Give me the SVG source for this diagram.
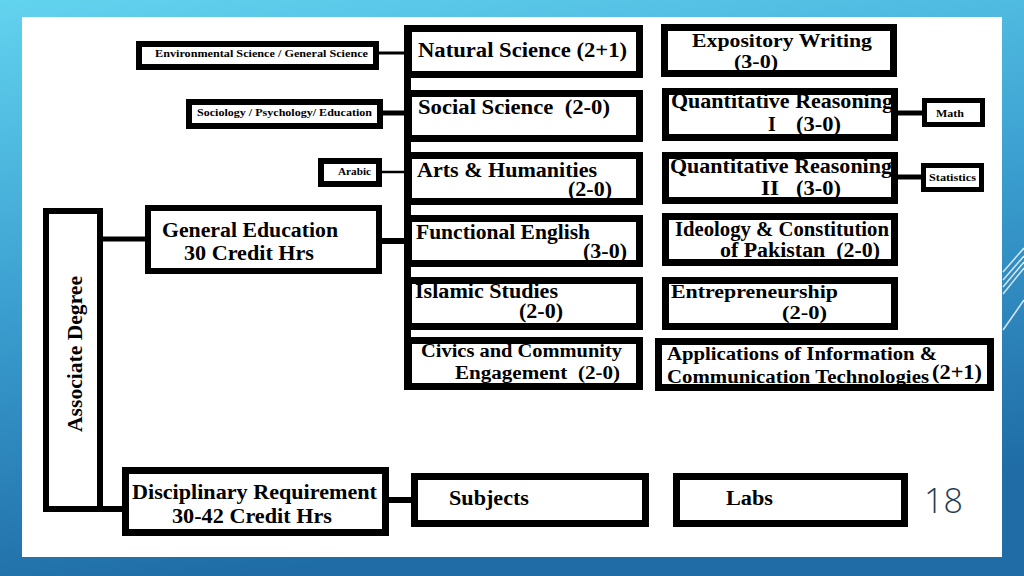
<svg xmlns="http://www.w3.org/2000/svg" width="1024" height="576" viewBox="0 0 1024 576">
<defs>
<linearGradient id="bg" x1="0" y1="0" x2="0.25" y2="1">
<stop offset="0" stop-color="#62D3EF"/>
<stop offset="0.5" stop-color="#3B9FD0"/>
<stop offset="1" stop-color="#1F6CA6"/>
</linearGradient>
<style>
.box{fill:#fff;stroke:#000;stroke-width:6}
.bx7{fill:#fff;stroke:#000;stroke-width:7}
.sm{fill:#fff;stroke:#000;stroke-width:5}
.t{font-family:"Liberation Serif","Times New Roman",serif;font-weight:bold;font-size:20px;fill:#000}
.t2{font-family:"Liberation Serif","Times New Roman",serif;font-weight:bold;font-size:19px;fill:#000}
.ts{font-family:"Liberation Serif","Times New Roman",serif;font-weight:bold;font-size:11px;fill:#000}
.tm{font-family:"Liberation Serif","Times New Roman",serif;font-weight:bold;font-size:18px;fill:#000}
.c{stroke:#000;fill:none}
.deco{stroke:#fff;stroke-width:1.5;fill:none;opacity:0.8}
</style>
</defs>
<rect x="0" y="0" width="1024" height="576" fill="url(#bg)"/>
<g class="deco">
<line x1="1003" y1="272" x2="1024" y2="248"/>
<line x1="1003" y1="280" x2="1024" y2="256"/>
<line x1="1003" y1="287" x2="1024" y2="262"/>
<line x1="1003" y1="294" x2="1024" y2="268"/>
<line x1="1003" y1="330" x2="1024" y2="300"/>
</g>
<rect x="22" y="17" width="980" height="540" fill="#fff"/>

<g id="connectors">
<line class="c" x1="376" y1="53" x2="407" y2="53" stroke-width="3"/>
<line class="c" x1="380" y1="113" x2="407" y2="113" stroke-width="5"/>
<line class="c" x1="379" y1="172" x2="407" y2="172" stroke-width="2.5"/>
<line class="c" x1="379" y1="241" x2="407" y2="241" stroke-width="6"/>
<line class="c" x1="100" y1="239" x2="148" y2="239" stroke-width="5"/>
<line class="c" x1="100" y1="509" x2="125" y2="509" stroke-width="6"/>
<line class="c" x1="386" y1="500" x2="414" y2="500" stroke-width="6"/>
<line class="c" x1="895" y1="113" x2="925" y2="113" stroke-width="5"/>
<line class="c" x1="895" y1="177" x2="924" y2="177" stroke-width="5"/>
<line class="c" x1="407.5" y1="25" x2="407.5" y2="390" stroke-width="7"/>
</g>

<g id="env"><rect class="box" x="139" y="44" width="237" height="23"/>
<text class="ts" x="155" y="57" textLength="213" lengthAdjust="spacingAndGlyphs">Environmental Science / General Science</text></g>
<g id="soc-sub"><rect class="box" x="189" y="102" width="191" height="24"/>
<text class="ts" x="197" y="116" textLength="175" lengthAdjust="spacingAndGlyphs">Sociology / Psychology/ Education</text></g>
<g id="arabic"><rect class="box" x="321" y="161" width="58" height="23"/>
<text class="ts" x="338" y="175" textLength="33" lengthAdjust="spacingAndGlyphs">Arabic</text></g>

<g id="assoc"><rect class="box" x="46" y="211" width="54" height="298"/>
<text class="t" transform="translate(82,432) rotate(-90)" x="0" y="0" textLength="156" lengthAdjust="spacingAndGlyphs">Associate Degree</text></g>

<g id="gened"><rect class="box" x="148" y="208" width="231" height="63"/>
<text class="t" x="162" y="237" textLength="176" lengthAdjust="spacingAndGlyphs">General Education</text>
<text class="t" x="184" y="260" textLength="130" lengthAdjust="spacingAndGlyphs">30 Credit Hrs</text></g>

<g id="disc"><rect class="bx7" x="125.5" y="470.5" width="260" height="62"/>
<text class="t" x="132" y="499" textLength="245" lengthAdjust="spacingAndGlyphs">Disciplinary Requirement</text>
<text class="t" x="172" y="523" textLength="160" lengthAdjust="spacingAndGlyphs">30-42 Credit Hrs</text></g>

<g id="natural"><rect class="bx7" x="408.5" y="28.5" width="231" height="46"/>
<text class="t" x="418" y="57" textLength="209" lengthAdjust="spacingAndGlyphs">Natural Science (2+1)</text></g>
<g id="social"><rect class="bx7" x="408.5" y="93.5" width="231" height="45"/>
<text class="t" x="418" y="114" textLength="192" lengthAdjust="spacingAndGlyphs" xml:space="preserve">Social Science  (2-0)</text></g>
<g id="arts"><rect class="bx7" x="408.5" y="155.5" width="231" height="46"/>
<text class="t" x="417" y="177" textLength="180" lengthAdjust="spacingAndGlyphs">Arts &amp; Humanities</text>
<text class="t" x="568" y="196" textLength="44" lengthAdjust="spacingAndGlyphs">(2-0)</text></g>
<g id="english"><rect class="bx7" x="408.5" y="218.5" width="231" height="45"/>
<text class="t" x="416" y="239" textLength="174" lengthAdjust="spacingAndGlyphs">Functional English</text>
<text class="t" x="583" y="258" textLength="44" lengthAdjust="spacingAndGlyphs">(3-0)</text></g>
<g id="islamic"><rect class="bx7" x="408.5" y="280.5" width="231" height="46"/>
<text class="t" x="415" y="298" textLength="143" lengthAdjust="spacingAndGlyphs">Islamic Studies</text>
<text class="t" x="519" y="318" textLength="44" lengthAdjust="spacingAndGlyphs">(2-0)</text></g>
<g id="civics"><rect class="bx7" x="408.5" y="340.5" width="231" height="46"/>
<text class="tm" x="421" y="357" textLength="201" lengthAdjust="spacingAndGlyphs">Civics and Community</text>
<text class="tm" x="455" y="379" textLength="165" lengthAdjust="spacingAndGlyphs" xml:space="preserve">Engagement  (2-0)</text></g>

<g id="expository"><rect class="bx7" x="664.5" y="27.5" width="229" height="46"/>
<text class="t2" x="692" y="47" textLength="180" lengthAdjust="spacingAndGlyphs">Expository Writing</text>
<text class="t2" x="734" y="68" textLength="44" lengthAdjust="spacingAndGlyphs">(3-0)</text></g>
<g id="qr1"><rect class="bx7" x="665.5" y="91.5" width="229" height="46"/>
<text class="t" x="671" y="108" textLength="222" lengthAdjust="spacingAndGlyphs">Quantitative Reasoning</text>
<text class="t" x="768" y="131">I</text>
<text class="t" x="796" y="131" textLength="45" lengthAdjust="spacingAndGlyphs">(3-0)</text></g>
<g id="qr2"><rect class="bx7" x="665.5" y="155.5" width="229" height="45"/>
<text class="t" x="670" y="173" textLength="222" lengthAdjust="spacingAndGlyphs">Quantitative Reasoning</text>
<text class="t" x="761" y="195" textLength="18" lengthAdjust="spacingAndGlyphs">II</text>
<text class="t" x="796" y="195" textLength="45" lengthAdjust="spacingAndGlyphs">(3-0)</text></g>
<g id="ideology"><rect class="bx7" x="665.5" y="216.5" width="229" height="46"/>
<text class="t" x="675" y="236" textLength="214" lengthAdjust="spacingAndGlyphs">Ideology &amp; Constitution</text>
<text class="t" x="720" y="257" textLength="160" lengthAdjust="spacingAndGlyphs" xml:space="preserve">of Pakistan  (2-0)</text></g>
<g id="entre"><rect class="bx7" x="665.5" y="280.5" width="229" height="46"/>
<text class="t2" x="671" y="298" textLength="167" lengthAdjust="spacingAndGlyphs">Entrepreneurship</text>
<text class="t2" x="782" y="319" textLength="45" lengthAdjust="spacingAndGlyphs">(2-0)</text></g>
<g id="ict"><rect class="bx7" x="658.5" y="341.5" width="332" height="46"/>
<text class="tm" x="667" y="360" textLength="270" lengthAdjust="spacingAndGlyphs">Applications of Information &amp;</text>
<text class="tm" x="667" y="383" textLength="262" lengthAdjust="spacingAndGlyphs">Communication Technologies</text>
<text class="t" x="932" y="379" textLength="50" lengthAdjust="spacingAndGlyphs">(2+1)</text></g>

<g id="math"><rect class="sm" x="924.5" y="100.5" width="58" height="24"/>
<text class="ts" x="936" y="117" textLength="28" lengthAdjust="spacingAndGlyphs">Math</text></g>
<g id="stats"><rect class="sm" x="923.5" y="165.5" width="58" height="24"/>
<text class="ts" x="929" y="181" textLength="47" lengthAdjust="spacingAndGlyphs">Statistics</text></g>

<g id="subjects"><rect class="bx7" x="414.5" y="476.5" width="231" height="47"/>
<text class="t" x="449" y="505" textLength="80" lengthAdjust="spacingAndGlyphs">Subjects</text></g>
<g id="labs"><rect class="bx7" x="676.5" y="476.5" width="228" height="47"/>
<text class="t" x="726" y="505" textLength="47" lengthAdjust="spacingAndGlyphs">Labs</text></g>

<text x="924" y="513" font-family="'Open Sans','DejaVu Sans',sans-serif" font-weight="300" font-size="34" fill="#1E3D52">18</text>
</svg>
